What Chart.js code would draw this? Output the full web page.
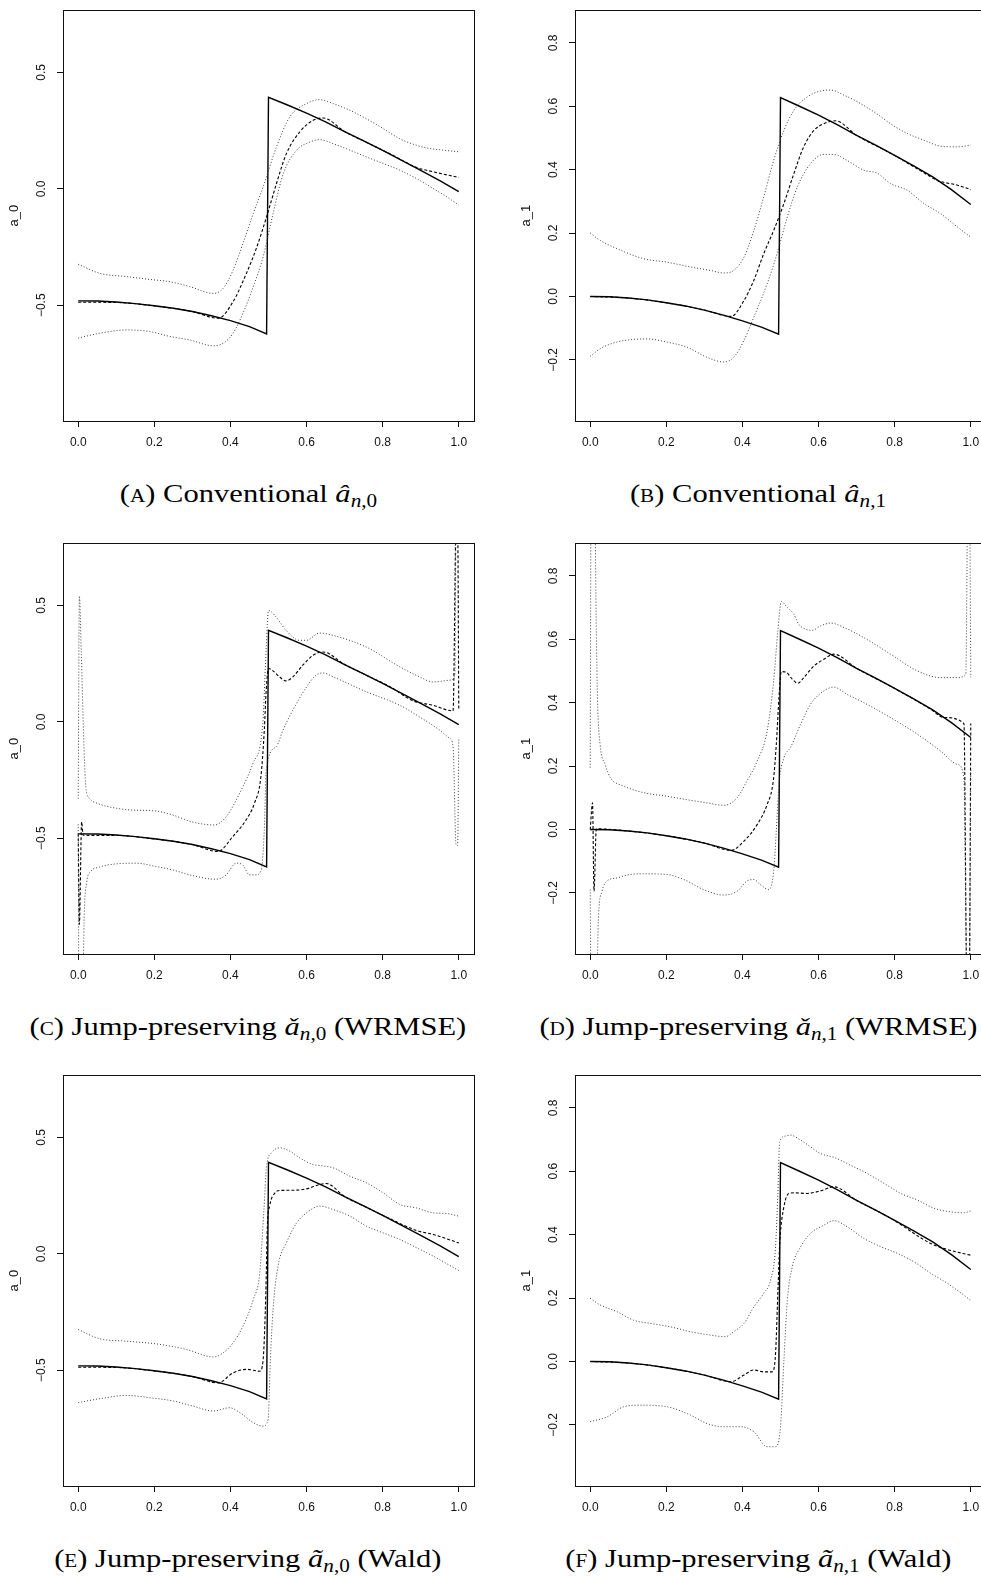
<!DOCTYPE html>
<html>
<head>
<meta charset="utf-8">
<script src="https://cdn.jsdelivr.net/npm/chart.js@4.4.1/dist/chart.umd.min.js"></script>
<style>
html, body { margin:0; padding:0; background:#fff; overflow:hidden; width:981px; height:1576px; }
canvas { position:absolute; }
.capbox { position:absolute; text-align:center; white-space:nowrap; }
.cap { display:inline-block; font-family:'Liberation Serif','Times New Roman',serif; font-size:26px; line-height:26px; color:#000; white-space:nowrap; transform:scaleX(1.175); transform-origin:center center; }
.cap .sc { font-variant:small-caps; }
.cap sub { font-size:18px; vertical-align:-5px; line-height:0; }
</style>
</head>
<body>
<canvas id="pA" width="490" height="460" style="left:0px;top:0px"></canvas>
<canvas id="pB" width="490" height="460" style="left:512px;top:0px"></canvas>
<canvas id="pC" width="490" height="460" style="left:0px;top:533px"></canvas>
<canvas id="pD" width="490" height="460" style="left:512px;top:533px"></canvas>
<canvas id="pE" width="490" height="460" style="left:0px;top:1065px"></canvas>
<canvas id="pF" width="490" height="460" style="left:512px;top:1065px"></canvas>

<div class="capbox" style="left:0px;width:496px;top:481px"><span class="cap"><span class="sc">(a)</span> Conventional <i>â</i><sub><i>n</i>,0</sub></span></div>
<div class="capbox" style="left:508px;width:500px;top:481px"><span class="cap"><span class="sc">(b)</span> Conventional <i>â</i><sub><i>n</i>,1</sub></span></div>
<div class="capbox" style="left:0px;width:496px;top:1014px"><span class="cap"><span class="sc">(c)</span> Jump-preserving <i>ǎ</i><sub><i>n</i>,0</sub> (WRMSE)</span></div>
<div class="capbox" style="left:508px;width:500px;top:1014px"><span class="cap"><span class="sc">(d)</span> Jump-preserving <i>ǎ</i><sub><i>n</i>,1</sub> (WRMSE)</span></div>
<div class="capbox" style="left:0px;width:496px;top:1546px"><span class="cap"><span class="sc">(e)</span> Jump-preserving <i>ã</i><sub><i>n</i>,0</sub> (Wald)</span></div>
<div class="capbox" style="left:508px;width:500px;top:1546px"><span class="cap"><span class="sc">(f)</span> Jump-preserving <i>ã</i><sub><i>n</i>,1</sub> (Wald)</span></div>

<script>
// ---------- ticks ----------
const xTicks = [0, 0.2, 0.4, 0.6, 0.8, 1.0];
const yTicksA0 = [-0.5, 0, 0.5];
const yTicksA1 = [-0.2, 0, 0.2, 0.4, 0.6, 0.8];

// ---------- true functions ----------
const trueX  = [0, 0.05, 0.1, 0.15, 0.2, 0.25, 0.3, 0.35, 0.4, 0.45, 0.495, 0.5, 0.55, 0.6, 0.65, 0.7, 0.75, 0.8, 0.85, 0.9, 0.95, 1.0];
const trueA0 = [-0.481, -0.482, -0.486, -0.493, -0.502, -0.513, -0.527, -0.545, -0.566, -0.592, -0.623, 0.393, 0.36, 0.325, 0.287, 0.246, 0.206, 0.165, 0.122, 0.079, 0.035, -0.012];
const trueA1 = [0.0, -0.001, -0.005, -0.011, -0.02, -0.03, -0.043, -0.059, -0.077, -0.097, -0.119, 0.627, 0.6, 0.572, 0.541, 0.508, 0.477, 0.445, 0.412, 0.377, 0.336, 0.29];

// ---------- (A) conventional a_0 ----------
const aEstX = [0, 0.1, 0.2, 0.3, 0.368, 0.407, 0.442, 0.468, 0.495, 0.521, 0.547, 0.582, 0.617, 0.644, 0.7, 0.757, 0.82, 0.889, 0.933, 1.0];
const aEst  = [-0.487, -0.488, -0.503, -0.527, -0.556, -0.484, -0.363, -0.256, -0.12, 0.023, 0.151, 0.244, 0.294, 0.304, 0.246, 0.2, 0.15, 0.092, 0.073, 0.049];
const aUpX  = [0, 0.057, 0.127, 0.188, 0.241, 0.293, 0.355, 0.381, 0.407, 0.433, 0.46, 0.486, 0.521, 0.556, 0.6, 0.635, 0.67, 0.714, 0.757, 0.801, 0.845, 0.889, 0.924, 0.959, 1.0];
const aUp   = [-0.324, -0.363, -0.377, -0.389, -0.399, -0.42, -0.449, -0.427, -0.349, -0.234, -0.106, 0.009, 0.18, 0.309, 0.366, 0.383, 0.366, 0.337, 0.301, 0.259, 0.215, 0.187, 0.173, 0.166, 0.159];
const aLoX  = [0, 0.057, 0.127, 0.188, 0.241, 0.293, 0.355, 0.381, 0.407, 0.433, 0.46, 0.486, 0.512, 0.539, 0.574, 0.609, 0.635, 0.67, 0.714, 0.757, 0.801, 0.845, 0.889, 0.933, 0.968, 1.0];
const aLo   = [-0.641, -0.62, -0.606, -0.613, -0.634, -0.649, -0.674, -0.663, -0.62, -0.534, -0.42, -0.291, -0.106, 0.066, 0.166, 0.201, 0.211, 0.194, 0.166, 0.137, 0.109, 0.08, 0.044, 0.001, -0.034, -0.07];

// ---------- (B) conventional a_1 ----------
const bEstX = [0, 0.1, 0.2, 0.3, 0.37, 0.404, 0.43, 0.456, 0.482, 0.509, 0.535, 0.561, 0.588, 0.614, 0.645, 0.7, 0.789, 0.877, 0.912, 0.965, 1.0];
const bEst  = [0, -0.005, -0.02, -0.043, -0.063, -0.013, 0.051, 0.135, 0.208, 0.293, 0.387, 0.472, 0.524, 0.545, 0.554, 0.508, 0.452, 0.39, 0.366, 0.351, 0.337];
const bUpX  = [0, 0.026, 0.07, 0.14, 0.202, 0.263, 0.316, 0.351, 0.377, 0.404, 0.43, 0.456, 0.482, 0.509, 0.535, 0.57, 0.605, 0.632, 0.667, 0.702, 0.746, 0.789, 0.833, 0.877, 0.921, 0.965, 1.0];
const bUp   = [0.2, 0.177, 0.151, 0.119, 0.108, 0.093, 0.082, 0.074, 0.082, 0.124, 0.208, 0.314, 0.429, 0.524, 0.587, 0.629, 0.648, 0.651, 0.635, 0.614, 0.582, 0.545, 0.514, 0.493, 0.474, 0.472, 0.477];
const bLoX  = [0, 0.026, 0.07, 0.149, 0.202, 0.254, 0.307, 0.351, 0.377, 0.404, 0.43, 0.465, 0.491, 0.518, 0.544, 0.579, 0.614, 0.64, 0.675, 0.719, 0.754, 0.789, 0.833, 0.877, 0.921, 0.965, 1.0];
const bLo   = [-0.189, -0.165, -0.144, -0.134, -0.144, -0.16, -0.192, -0.207, -0.192, -0.139, -0.065, 0.04, 0.135, 0.251, 0.345, 0.419, 0.448, 0.448, 0.429, 0.398, 0.389, 0.356, 0.335, 0.293, 0.261, 0.219, 0.187];

// ---------- (C) jump-preserving a_0 (WRMSE) ----------
const cEstX = [0, 0.003, 0.009, 0.013, 0.1, 0.2, 0.3, 0.367, 0.406, 0.441, 0.463, 0.48, 0.489, 0.494, 0.5, 0.511, 0.529, 0.546, 0.564, 0.59, 0.617, 0.643, 0.7, 0.757, 0.82, 0.88, 0.932, 0.985, 0.993, 0.997, 1.0];
const cEst  = [-0.48, -0.87, -0.43, -0.487, -0.488, -0.503, -0.527, -0.557, -0.493, -0.421, -0.35, -0.236, -0.036, 0.136, 0.229, 0.22, 0.193, 0.176, 0.193, 0.243, 0.286, 0.3, 0.246, 0.2, 0.15, 0.09, 0.071, 0.047, 0.85, 0.85, 0.055];
const cUpX  = [0, 0.003, 0.008, 0.014, 0.02, 0.03, 0.05, 0.1, 0.143, 0.204, 0.248, 0.3, 0.358, 0.389, 0.424, 0.459, 0.485, 0.494, 0.5, 0.52, 0.546, 0.582, 0.6, 0.634, 0.67, 0.757, 0.845, 0.897, 0.932, 0.98, 0.99, 0.993, 1.0];
const cUp   = [-0.33, 0.54, 0.3, -0.05, -0.28, -0.33, -0.35, -0.371, -0.379, -0.383, -0.4, -0.43, -0.443, -0.407, -0.307, -0.179, -0.007, 0.32, 0.478, 0.45, 0.393, 0.35, 0.35, 0.381, 0.371, 0.321, 0.236, 0.193, 0.171, 0.179, 0.207, 0.9, 0.9];
const cLoX  = [0, 0.002, 0.011, 0.016, 0.022, 0.033, 0.055, 0.1, 0.152, 0.204, 0.248, 0.3, 0.362, 0.389, 0.415, 0.432, 0.45, 0.468, 0.481, 0.489, 0.494, 0.52, 0.538, 0.564, 0.6, 0.625, 0.643, 0.67, 0.757, 0.845, 0.897, 0.95, 0.976, 0.985, 0.993, 0.997, 1.0];
const cLo   = [-0.44, -1.2, -1.2, -0.82, -0.69, -0.643, -0.624, -0.61, -0.607, -0.621, -0.636, -0.66, -0.676, -0.657, -0.607, -0.614, -0.657, -0.657, -0.636, -0.464, -0.207, -0.107, -0.036, 0.05, 0.15, 0.2, 0.21, 0.193, 0.129, 0.071, 0.021, -0.036, -0.071, -0.107, -0.53, -0.53, -0.07];

// ---------- (D) jump-preserving a_1 (WRMSE) ----------
const dEstX = [0, 0.006, 0.01, 0.016, 0.1, 0.2, 0.3, 0.37, 0.404, 0.439, 0.465, 0.481, 0.489, 0.496, 0.502, 0.516, 0.531, 0.546, 0.561, 0.588, 0.614, 0.64, 0.7, 0.789, 0.895, 0.93, 0.982, 0.99, 0.996, 1.0];
const dEst  = [0, 0.084, -0.195, 0.002, -0.005, -0.02, -0.043, -0.066, -0.037, 0.016, 0.079, 0.153, 0.268, 0.416, 0.498, 0.495, 0.474, 0.461, 0.479, 0.516, 0.537, 0.553, 0.508, 0.452, 0.379, 0.353, 0.334, -0.5, -0.5, 0.334];
const dUpX  = [0, 0.002, 0.012, 0.016, 0.019, 0.026, 0.039, 0.053, 0.088, 0.14, 0.2, 0.263, 0.307, 0.351, 0.386, 0.412, 0.439, 0.465, 0.482, 0.493, 0.502, 0.518, 0.535, 0.548, 0.566, 0.583, 0.605, 0.632, 0.667, 0.719, 0.789, 0.86, 0.921, 0.965, 0.987, 0.992, 0.997, 1.0];
const dUp   = [0.195, 1.0, 1.0, 0.626, 0.416, 0.268, 0.205, 0.163, 0.137, 0.116, 0.105, 0.092, 0.084, 0.076, 0.1, 0.153, 0.216, 0.311, 0.468, 0.626, 0.719, 0.7, 0.679, 0.647, 0.632, 0.628, 0.642, 0.651, 0.637, 0.605, 0.553, 0.5, 0.479, 0.479, 0.489, 1.0, 1.0, 0.48];
const dLoX  = [0, 0.002, 0.016, 0.022, 0.031, 0.044, 0.07, 0.105, 0.14, 0.2, 0.246, 0.298, 0.351, 0.386, 0.412, 0.43, 0.447, 0.469, 0.482, 0.489, 0.496, 0.509, 0.526, 0.553, 0.579, 0.614, 0.64, 0.675, 0.719, 0.789, 0.86, 0.921, 0.965, 0.982, 0.99, 0.996, 1.0];
const dLo   = [-0.19, -0.5, -0.5, -0.268, -0.195, -0.163, -0.153, -0.142, -0.14, -0.142, -0.158, -0.19, -0.207, -0.195, -0.163, -0.158, -0.174, -0.19, -0.132, -0.005, 0.142, 0.226, 0.258, 0.332, 0.395, 0.437, 0.449, 0.426, 0.4, 0.353, 0.3, 0.247, 0.205, 0.163, -0.5, -0.5, 0.19];

// ---------- (E) jump-preserving a_0 (Wald) ----------
const eEstX = [0, 0.1, 0.2, 0.3, 0.368, 0.407, 0.442, 0.477, 0.486, 0.493, 0.497, 0.503, 0.517, 0.53, 0.565, 0.6, 0.635, 0.652, 0.7, 0.757, 0.82, 0.889, 0.933, 1.0];
const eEst  = [-0.487, -0.488, -0.503, -0.527, -0.554, -0.511, -0.496, -0.504, -0.453, -0.167, 0.119, 0.205, 0.262, 0.272, 0.273, 0.279, 0.298, 0.302, 0.246, 0.2, 0.15, 0.1, 0.083, 0.047];
const eUpX  = [0, 0.057, 0.127, 0.215, 0.285, 0.355, 0.381, 0.407, 0.433, 0.46, 0.477, 0.488, 0.495, 0.508, 0.53, 0.556, 0.582, 0.617, 0.635, 0.67, 0.714, 0.757, 0.801, 0.845, 0.889, 0.933, 0.968, 1.0];
const eUp   = [-0.325, -0.365, -0.375, -0.389, -0.411, -0.443, -0.425, -0.382, -0.31, -0.196, -0.082, 0.19, 0.376, 0.434, 0.455, 0.441, 0.412, 0.383, 0.379, 0.369, 0.333, 0.305, 0.262, 0.212, 0.197, 0.176, 0.173, 0.162];
const eLoX  = [0, 0.057, 0.127, 0.188, 0.25, 0.302, 0.355, 0.398, 0.425, 0.46, 0.486, 0.499, 0.505, 0.512, 0.525, 0.547, 0.574, 0.6, 0.635, 0.67, 0.714, 0.757, 0.801, 0.845, 0.889, 0.933, 1.0];
const eLo   = [-0.639, -0.622, -0.608, -0.618, -0.632, -0.654, -0.675, -0.661, -0.682, -0.725, -0.74, -0.711, -0.453, -0.239, -0.053, 0.047, 0.133, 0.176, 0.205, 0.19, 0.162, 0.119, 0.09, 0.062, 0.026, -0.01, -0.072];

// ---------- (F) jump-preserving a_1 (Wald) ----------
const fEstX = [0, 0.1, 0.2, 0.3, 0.37, 0.404, 0.43, 0.456, 0.478, 0.487, 0.493, 0.498, 0.509, 0.522, 0.535, 0.57, 0.605, 0.64, 0.7, 0.789, 0.895, 0.939, 1.0];
const fEst  = [0, -0.005, -0.02, -0.043, -0.064, -0.043, -0.027, -0.033, -0.033, 0.025, 0.215, 0.372, 0.488, 0.53, 0.532, 0.53, 0.538, 0.551, 0.508, 0.452, 0.372, 0.353, 0.335];
const fUpX  = [0, 0.026, 0.07, 0.114, 0.158, 0.211, 0.263, 0.316, 0.355, 0.377, 0.404, 0.43, 0.456, 0.474, 0.487, 0.493, 0.498, 0.513, 0.526, 0.553, 0.579, 0.605, 0.64, 0.684, 0.728, 0.772, 0.816, 0.86, 0.904, 0.947, 0.982, 1.0];
const fUp   = [0.199, 0.178, 0.157, 0.13, 0.12, 0.109, 0.094, 0.083, 0.078, 0.094, 0.12, 0.172, 0.215, 0.257, 0.362, 0.53, 0.693, 0.711, 0.714, 0.698, 0.677, 0.656, 0.644, 0.619, 0.593, 0.562, 0.53, 0.509, 0.483, 0.472, 0.469, 0.475];
const fLoX  = [0, 0.044, 0.088, 0.132, 0.202, 0.263, 0.307, 0.351, 0.395, 0.43, 0.465, 0.487, 0.5, 0.509, 0.518, 0.531, 0.553, 0.579, 0.614, 0.64, 0.675, 0.719, 0.763, 0.807, 0.851, 0.895, 0.939, 1.0];
const fLo   = [-0.19, -0.175, -0.143, -0.138, -0.143, -0.169, -0.196, -0.206, -0.206, -0.222, -0.269, -0.269, -0.206, 0.004, 0.193, 0.299, 0.362, 0.404, 0.43, 0.444, 0.425, 0.388, 0.362, 0.341, 0.314, 0.278, 0.246, 0.193];

// ---------- axis ranges ----------
const xRange   = [-0.04, 1.04];
const yRangeA0 = [-0.997, 0.767];
const yRangeA1 = [-0.393, 0.903];

const FONT = "'Liberation Sans', Arial, Helvetica, sans-serif";
const fmt = v => (v < 0 ? '\u2212' : '') + Math.abs(v).toFixed(1);
const pts = (xs, ys) => xs.map((x, i) => ({ x: x, y: ys[i] }));

const boxPlugin = {
  id: 'rbox',
  afterDatasetsDraw(chart) {
    const { ctx, chartArea: a } = chart;
    ctx.save();
    ctx.strokeStyle = '#111';
    ctx.lineWidth = 1;
    ctx.strokeRect(Math.round(a.left) + 0.5, Math.round(a.top) + 0.5, Math.round(a.width), Math.round(a.height));
    ctx.restore();
  }
};

function panel(id, yTitle, yRange, yTicks, trueY, estX, est, upX, up, loX, lo) {
  const band = { borderColor: '#3a3a3a', borderWidth: 1, borderDash: [1, 2], cubicInterpolationMode: 'monotone', pointRadius: 0, fill: false };
  new Chart(document.getElementById(id), {
    type: 'line',
    data: {
      datasets: [
        Object.assign({ data: pts(upX, up) }, band),
        Object.assign({ data: pts(loX, lo) }, band),
        { data: pts(estX, est), borderColor: '#000', borderWidth: 1.1, borderDash: [3, 2], cubicInterpolationMode: 'monotone', pointRadius: 0, fill: false },
        { data: pts(trueX, trueY), borderColor: '#000', borderWidth: 1.4, tension: 0, pointRadius: 0, fill: false }
      ]
    },
    options: {
      responsive: false,
      animation: false,
      devicePixelRatio: 1,
      events: [],
      layout: { padding: { top: 10, right: 16, left: 0, bottom: 0 } },
      plugins: { legend: { display: false }, tooltip: { enabled: false } },
      scales: {
        x: {
          type: 'linear', min: xRange[0], max: xRange[1],
          afterBuildTicks: s => { s.ticks = xTicks.map(v => ({ value: v })); },
          afterFit: s => { s.height = 39; },
          border: { display: false },
          grid: { drawOnChartArea: false, drawTicks: true, tickLength: 6, color: '#111', lineWidth: 1 },
          ticks: { font: { family: FONT, size: 12 }, color: '#111', padding: 8, maxRotation: 0, minRotation: 0, autoSkip: false, callback: v => fmt(v) }
        },
        y: {
          type: 'linear', min: yRange[0], max: yRange[1],
          afterBuildTicks: s => { s.ticks = yTicks.map(v => ({ value: v })); },
          afterFit: s => { s.width = 63; },
          border: { display: false },
          grid: { drawOnChartArea: false, drawTicks: true, tickLength: 6, color: '#111', lineWidth: 1 },
          ticks: { font: { family: FONT, size: 12 }, color: '#111', padding: 3, minRotation: 90, maxRotation: 90, crossAlign: 'center', autoSkip: false, callback: v => fmt(v) },
          title: { display: true, text: yTitle, font: { family: FONT, size: 13 }, color: '#111', padding: { top: 7, bottom: 0 } }
        }
      }
    },
    plugins: [boxPlugin]
  });
}

panel('pA', 'a_0', yRangeA0, yTicksA0, trueA0, aEstX, aEst, aUpX, aUp, aLoX, aLo);
panel('pB', 'a_1', yRangeA1, yTicksA1, trueA1, bEstX, bEst, bUpX, bUp, bLoX, bLo);
panel('pC', 'a_0', yRangeA0, yTicksA0, trueA0, cEstX, cEst, cUpX, cUp, cLoX, cLo);
panel('pD', 'a_1', yRangeA1, yTicksA1, trueA1, dEstX, dEst, dUpX, dUp, dLoX, dLo);
panel('pE', 'a_0', yRangeA0, yTicksA0, trueA0, eEstX, eEst, eUpX, eUp, eLoX, eLo);
panel('pF', 'a_1', yRangeA1, yTicksA1, trueA1, fEstX, fEst, fUpX, fUp, fLoX, fLo);
</script>
</body>
</html>
